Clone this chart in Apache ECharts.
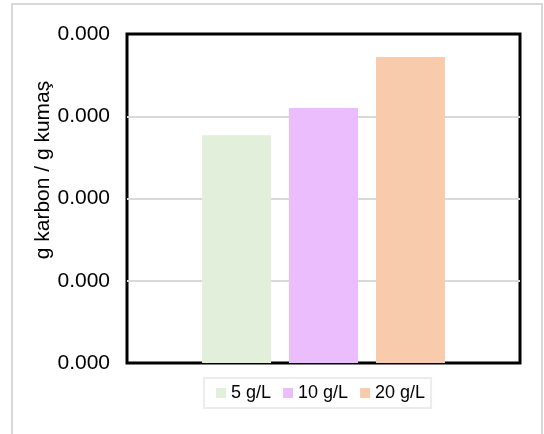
<!DOCTYPE html>
<html>
<head>
<meta charset="utf-8">
<script src="https://cdn.jsdelivr.net/npm/echarts@6/dist/echarts.min.js"></script>
<style>
  html, body { margin: 0; padding: 0; background: #fff; }
  #chart { width: 544px; height: 434px; }
</style>
</head>
<body>
<div id="chart"></div>
<script>
// Carbon uptake per gram of fabric for three dye-bath concentrations
const categories = ['Numune'];
const seriesNames = ['5 g/L', '10 g/L', '20 g/L'];
const seriesValues = [
  [0.000277],
  [0.000310],
  [0.000372]
];
const seriesColors = ['#E2EFDA', '#ECBDFD', '#F7CBAC'];
const yAxisTitle = 'g karbon / g kumaş';

const FONT = '"Liberation Sans", Arial, sans-serif';

const chart = echarts.init(document.getElementById('chart'), null, { renderer: 'canvas' });

chart.setOption({
  animation: false,
  backgroundColor: '#ffffff',
  textStyle: { fontFamily: FONT },
  grid: {
    left: 127, right: 24, top: 34, bottom: 71,
    show: true, borderColor: '#000000', borderWidth: 3,
    containLabel: false
  },
  legend: {
    data: seriesNames,
    left: 204, top: 378,
    padding: [6, 6, 6, 12],
    itemWidth: 10, itemHeight: 10, itemGap: 12,
    borderColor: '#ececec', borderWidth: 2,
    icon: 'rect',
    textStyle: { fontFamily: FONT, fontSize: 18, color: '#000' }
  },
  xAxis: {
    type: 'category',
    data: categories,
    axisLine: { show: false },
    axisTick: { show: false },
    axisLabel: { show: false }
  },
  yAxis: {
    type: 'value',
    min: 0, max: 0.0004, interval: 0.0001,
    axisLine: { show: false },
    axisTick: { show: false },
    axisLabel: {
      margin: 17,
      fontFamily: FONT, fontSize: 21, color: '#000',
      formatter: v => v.toFixed(3)
    },
    splitLine: {
      showMinLine: false, showMaxLine: false,
      lineStyle: { color: '#d9d9d9', width: 2 }
    }
  },
  graphic: [
    {
      type: 'rect', silent: true, z: -1,
      shape: { x: 12, y: 4, width: 530, height: 440 },
      style: { fill: 'none', stroke: '#d9d9d9', lineWidth: 2 }
    },
    {
      type: 'text', silent: true,
      x: 43, y: 170, rotation: Math.PI / 2,
      style: {
        text: yAxisTitle,
        font: '21px "Liberation Sans", Arial, sans-serif',
        fill: '#000',
        align: 'center', verticalAlign: 'middle'
      }
    }
  ],
  series: seriesNames.map((name, i) => ({
    name: name,
    type: 'bar',
    data: seriesValues[i],
    barWidth: 69,
    barGap: '26%',
    itemStyle: { color: seriesColors[i] }
  }))
});
</script>
</body>
</html>
